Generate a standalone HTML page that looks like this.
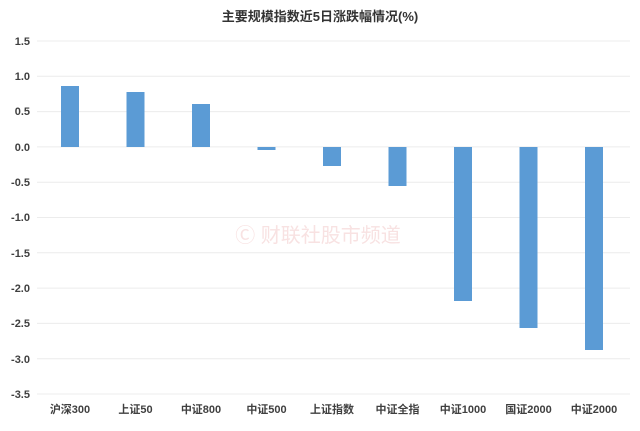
<!DOCTYPE html>
<html><head><meta charset="utf-8"><style>
body{margin:0;background:#fff;}
svg text{font-family:"Liberation Sans","Noto Sans CJK SC",sans-serif;}
</style></head><body>
<svg width="640" height="426" xmlns="http://www.w3.org/2000/svg">
<text x="320" y="21" font-size="13" font-weight="bold" text-anchor="middle" fill="#333">主要规模指数近5日涨跌幅情况(%)</text>
<g stroke="#ececec" stroke-width="1">
<line x1="37" x2="630" y1="41" y2="41"/><line x1="37" x2="630" y1="76.3" y2="76.3"/>
<line x1="37" x2="630" y1="111.6" y2="111.6"/><line x1="37" x2="630" y1="146.9" y2="146.9"/>
<line x1="37" x2="630" y1="182.2" y2="182.2"/><line x1="37" x2="630" y1="217.5" y2="217.5"/>
<line x1="37" x2="630" y1="252.8" y2="252.8"/><line x1="37" x2="630" y1="288.1" y2="288.1"/>
<line x1="37" x2="630" y1="323.4" y2="323.4"/><line x1="37" x2="630" y1="358.7" y2="358.7"/>
<line x1="37" x2="630" y1="394" y2="394"/>
</g>
<g font-size="11" text-anchor="end" fill="#404040" font-weight="bold">
<text x="30" y="45">1.5</text><text x="30" y="80">1.0</text><text x="30" y="115">0.5</text>
<text x="30" y="151">0.0</text><text x="30" y="186">-0.5</text><text x="30" y="221">-1.0</text>
<text x="30" y="257">-1.5</text><text x="30" y="292">-2.0</text><text x="30" y="327">-2.5</text>
<text x="30" y="363">-3.0</text><text x="30" y="398">-3.5</text>
</g>
<text x="318" y="242" font-size="20" text-anchor="middle" fill="#f8e2e2">Ⓒ 财联社股市频道</text>
<g fill="#5b9bd5">
<rect x="61" y="86" width="18" height="61"/>
<rect x="126.5" y="92" width="18" height="55"/>
<rect x="192" y="104" width="18" height="43"/>
<rect x="257.5" y="147" width="18" height="3"/>
<rect x="323" y="147" width="18" height="19"/>
<rect x="388.5" y="147" width="18" height="39"/>
<rect x="454" y="147" width="18" height="154"/>
<rect x="519.5" y="147" width="18" height="181"/>
<rect x="585" y="147" width="18" height="203"/>
</g>
<g font-size="11" text-anchor="middle" fill="#404040" font-weight="bold">
<text x="70" y="413">沪深300</text><text x="135.5" y="413">上证50</text><text x="201" y="413">中证800</text>
<text x="266.5" y="413">中证500</text><text x="332" y="413">上证指数</text><text x="397.5" y="413">中证全指</text>
<text x="463" y="413">中证1000</text><text x="528.5" y="413">国证2000</text><text x="594" y="413">中证2000</text>
</g>
</svg>
</body></html>
